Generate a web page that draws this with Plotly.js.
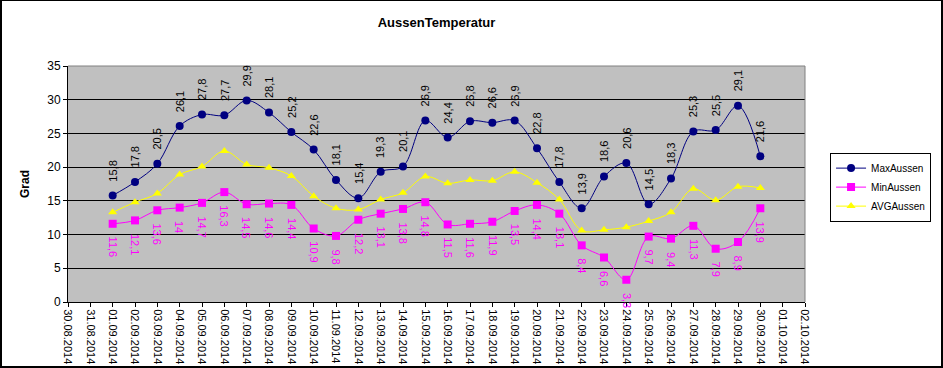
<!DOCTYPE html>
<html>
<head>
<meta charset="utf-8">
<script src="https://cdn.plot.ly/plotly-3.0.1.min.js"></script>
<style>
  html, body { margin: 0; padding: 0; background: #ffffff; }
  #wrap { position: relative; width: 943px; height: 368px; overflow: hidden; }
  #chart { position: absolute; left: 0; top: 0; width: 943px; height: 368px; }
  #frame { position: absolute; left: 0; top: 0; width: 943px; height: 368px; box-sizing: border-box;
           border-left: 2px solid #000; border-top: 1px solid #000; border-right: 2px solid #000; border-bottom: 2px solid #000;
           pointer-events: none; }
</style>
</head>
<body>
<div id="wrap">
  <div id="chart"></div>
  <div id="frame"></div>
</div>
<script>
// Axis categories (tick labels)
var allDates = ["30.08.2014","31.08.2014","01.09.2014","02.09.2014","03.09.2014","04.09.2014","05.09.2014","06.09.2014",
  "07.09.2014","08.09.2014","09.09.2014","10.09.2014","11.09.2014","12.09.2014","13.09.2014","14.09.2014","15.09.2014",
  "16.09.2014","17.09.2014","18.09.2014","19.09.2014","20.09.2014","21.09.2014","22.09.2014","23.09.2014","24.09.2014",
  "25.09.2014","26.09.2014","27.09.2014","28.09.2014","29.09.2014","30.09.2014","01.10.2014","02.10.2014"];

// Dates with measurements
var dataDates = ["01.09.2014","02.09.2014","03.09.2014","04.09.2014","05.09.2014","06.09.2014","07.09.2014","08.09.2014",
  "09.09.2014","10.09.2014","11.09.2014","12.09.2014","13.09.2014","14.09.2014","15.09.2014","16.09.2014","17.09.2014",
  "18.09.2014","19.09.2014","20.09.2014","21.09.2014","22.09.2014","23.09.2014","24.09.2014","25.09.2014","26.09.2014",
  "27.09.2014","28.09.2014","29.09.2014","30.09.2014"];

var maxAussen = [15.8,17.8,20.5,26.1,27.8,27.7,29.9,28.1,25.2,22.6,18.1,15.4,19.3,20.1,26.9,24.4,26.8,26.6,26.9,22.8,
  17.8,13.9,18.6,20.6,14.5,18.3,25.3,25.5,29.1,21.6];
var minAussen = [11.6,12.1,13.6,14,14.7,16.3,14.5,14.6,14.4,10.9,9.8,12.2,13.1,13.8,14.8,11.5,11.6,11.9,13.5,14.4,
  13.1,8.4,6.6,3.3,9.7,9.4,11.3,7.9,8.9,13.9];
var avgAussen = [13.3,14.8,16.1,18.9,20.1,22.4,20.4,19.9,18.7,15.7,13.9,13.7,15.2,16.2,18.6,17.6,18.1,18.0,19.3,17.7,
  15.2,10.6,10.7,11.1,12.0,13.3,16.8,15.1,17.1,16.9];

var yTicks = [0,5,10,15,20,25,30,35];

var FONT = "Arial, 'Liberation Sans', sans-serif";
function fmt(v) { return String(v).replace('.', ','); }

var traces = [
  { name: "MaxAussen", x: dataDates, y: maxAussen, type: "scatter", mode: "lines+markers",
    line: { color: "#000080", width: 1, shape: "spline", smoothing: 1 },
    marker: { color: "#000080", symbol: "circle", size: 8 }, cliponaxis: false },
  { name: "MinAussen", x: dataDates, y: minAussen, type: "scatter", mode: "lines+markers",
    line: { color: "#ff00ff", width: 1, shape: "spline", smoothing: 1 },
    marker: { color: "#ff00ff", symbol: "square", size: 8 }, cliponaxis: false },
  { name: "AVGAussen", x: dataDates, y: avgAussen, type: "scatter", mode: "lines+markers",
    line: { color: "#ffff00", width: 1, shape: "spline", smoothing: 1 },
    marker: { color: "#ffff00", symbol: "triangle-up", size: 8 }, cliponaxis: false }
];

var annotations = [];
dataDates.forEach(function (d, i) {
  annotations.push({ x: d, y: maxAussen[i], xref: "x", yref: "y", text: fmt(maxAussen[i]), showarrow: false,
    textangle: -90, xanchor: "center", yanchor: "bottom", yshift: 12,
    font: { family: FONT, size: 11, color: "#000000" } });
  annotations.push({ x: d, y: minAussen[i], xref: "x", yref: "y", text: fmt(minAussen[i]), showarrow: false,
    textangle: 90, xanchor: "center", yanchor: "top", yshift: -11,
    font: { family: FONT, size: 11, color: "#ff00ff" } });
});

var layout = {
  width: 943, height: 368,
  margin: { l: 68, r: 126, t: 66, b: 66, pad: 0 },
  paper_bgcolor: "#ffffff",
  plot_bgcolor: "#c0c0c0",
  font: { family: FONT, size: 11, color: "#000000" },
  title: { text: "<b>AussenTemperatur</b>", font: { family: FONT, size: 13, color: "#000000" },
    x: 0.5, xref: "paper", xanchor: "center", y: 0.94, yref: "container", yanchor: "middle" },
  showlegend: true,
  legend: { x: 1.034, xanchor: "left", y: 0.633, yanchor: "top", bgcolor: "#ffffff",
    bordercolor: "#000000", borderwidth: 1, font: { family: FONT, size: 10, color: "#000000" },
    itemwidth: 30, tracegroupgap: 0 },
  xaxis: {
    type: "category", categoryorder: "array", categoryarray: allDates,
    range: [0, allDates.length - 1], tickmode: "array", tickvals: allDates, ticktext: allDates,
    tickangle: 90, ticks: "outside", ticklen: 4, tickcolor: "#000000", tickwidth: 1,
    showline: true, linecolor: "#000000", linewidth: 1, showgrid: false, zeroline: false,
    tickfont: { family: FONT, size: 11, color: "#000000" }, fixedrange: true
  },
  yaxis: {
    range: [0, 35], tickmode: "array", tickvals: yTicks,
    ticks: "outside", ticklen: 4, tickcolor: "#000000", tickwidth: 1,
    showline: true, linecolor: "#000000", linewidth: 1,
    showgrid: true, gridcolor: "#000000", gridwidth: 1, zeroline: false,
    tickfont: { family: FONT, size: 12, color: "#000000" },
    title: { text: "<b>Grad</b>", font: { family: FONT, size: 12, color: "#000000" }, standoff: 15 },
    fixedrange: true
  },
  shapes: [
    { type: "line", xref: "paper", yref: "paper", x0: 0, x1: 1, y0: 1, y1: 1, line: { color: "#808080", width: 1 }, layer: "above" },
    { type: "line", xref: "paper", yref: "paper", x0: 1, x1: 1, y0: 0, y1: 1, line: { color: "#808080", width: 1 }, layer: "above" }
  ],
  annotations: annotations
};

Plotly.newPlot("chart", traces, layout, { displayModeBar: false, staticPlot: true });
</script>
</body>
</html>
